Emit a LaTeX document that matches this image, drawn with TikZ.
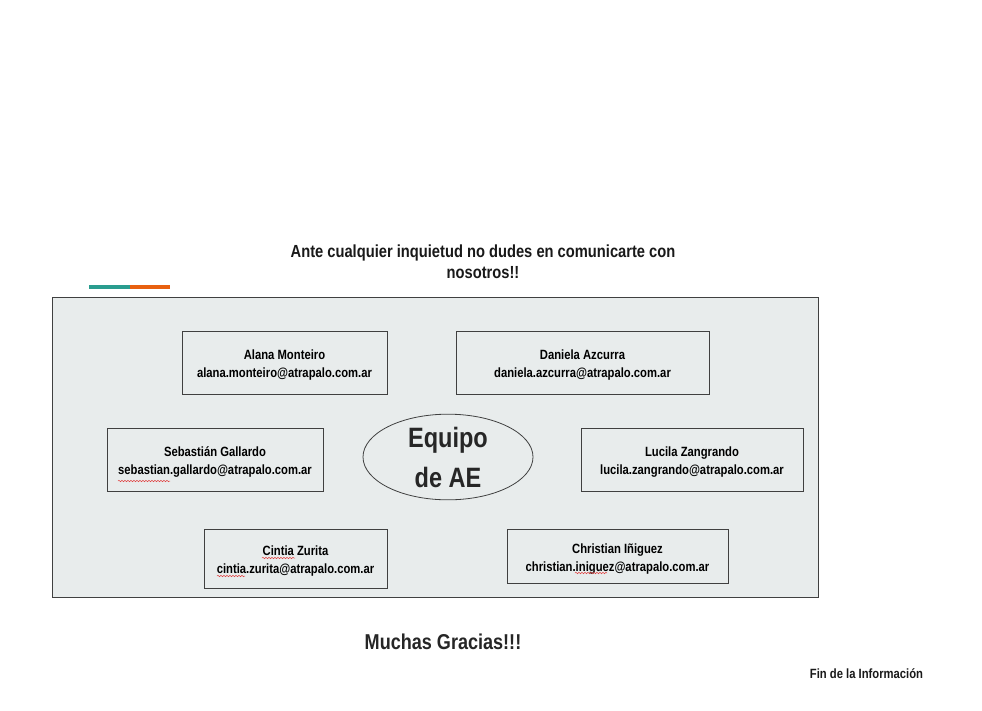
\documentclass[tikz,border=0pt]{standalone}
\usepackage{fontspec}
\setmainfont{Liberation Sans}[FakeStretch=0.84]
\usetikzlibrary{shapes.geometric,decorations.pathmorphing}
\definecolor{panel}{HTML}{E8ECEC}
\definecolor{edge}{HTML}{404040}
\definecolor{teal}{HTML}{2A9D8F}
\definecolor{orng}{HTML}{E8600F}
\definecolor{spell}{HTML}{E04040}
\begin{document}
\begin{tikzpicture}[x=1pt,y=-1pt,
  person/.style={draw=edge,line width=0.8pt,fill=panel,minimum height=#1,inner sep=0pt,align=center,font=\fontsize{13.4}{18}\selectfont\bfseries,text height=33pt},
  person/.default=63pt,
  squig/.style={draw=spell,line width=0.5pt,decorate,decoration={snake,segment length=3pt,amplitude=0.7pt}}]
\useasboundingbox (0,0) rectangle (982,710);
\fill[white] (0,0) rectangle (982,710);
% header
\node[align=center,font=\fontsize{17.5}{21}\selectfont\bfseries,text=black!90] (head) at (483,262) {Ante cualquier inquietud no dudes en comunicarte con\\nosotros!!};
\fill[teal] (89,284.5) rectangle (130,288.5);
\fill[orng] (130,284.5) rectangle (170,288.5);
% panel
\node[draw=edge,line width=0.8pt,fill=panel,minimum width=766pt,minimum height=300pt,inner sep=0pt] (panel) at (435,447) {};
% boxes
\node[person,minimum width=205pt] (alana) at (284.5,362.5) {Alana Monteiro\\alana.monteiro@atrapalo.com.ar};
\node[person,minimum width=253pt] (daniela) at (582.5,362.5) {Daniela Azcurra\\daniela.azcurra@atrapalo.com.ar};
\node[person,minimum width=216pt] (sebas) at (215,459.5) {Sebastián Gallardo\\sebastian.gallardo@atrapalo.com.ar};
\node[person,minimum width=222pt] (lucila) at (692,459.5) {Lucila Zangrando\\lucila.zangrando@atrapalo.com.ar};
\node[person=59pt,minimum width=183pt] (cintia) at (295.5,558.5) {Cintia Zurita\\cintia.zurita@atrapalo.com.ar};
\node[person=54pt,minimum width=221pt] (christian) at (617.5,556) {Christian Iñiguez\\christian.iniguez@atrapalo.com.ar};
% spell-check marks
\draw[squig] (118,481) -- (170,481);
\draw[squig] (262,558) -- (295,558);
\draw[squig] (217,576) -- (245,576);
\draw[squig] (575,573) -- (607,573);
% ellipse
\node[draw=edge,line width=0.8pt,ellipse,minimum width=170pt,minimum height=82pt,inner sep=0pt,align=center,font=\fontsize{28}{40}\selectfont\bfseries,text=black!85] (equipo) at (448,457) {Equipo\\de AE};
% footer
\node[font=\fontsize{21.5}{25}\selectfont\bfseries,text=black!85] (gracias) at (443,642) {Muchas Gracias!!!};
\node[font=\fontsize{13.4}{14}\selectfont\bfseries,text=black!90] (fin) at (866.5,674) {Fin de la Información};
\end{tikzpicture}
\end{document}
